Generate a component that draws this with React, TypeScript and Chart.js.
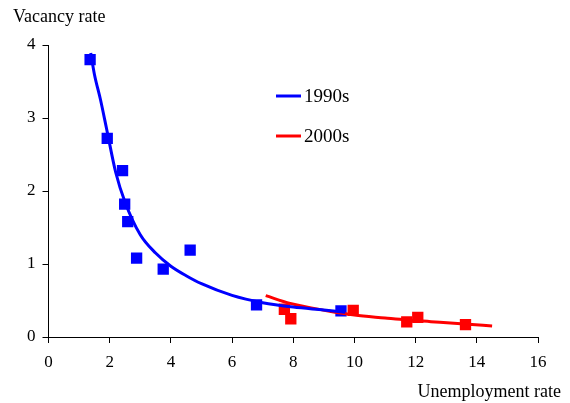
import React, { useEffect, useRef } from "react";
import { Chart, registerables } from "chart.js";

Chart.register(...registerables);

// 1990s observations (unemployment rate, vacancy rate)
const blueX = [1.36, 1.92, 2.42, 2.49, 2.59, 2.88, 3.75, 4.63, 6.8, 9.56];
const blueY = [3.8, 2.72, 2.28, 1.82, 1.58, 1.08, 0.93, 1.19, 0.44, 0.357];
// 2000s observations
const redX = [7.71, 7.92, 9.96, 11.71, 12.07, 13.63];
const redY = [0.38, 0.25, 0.366, 0.206, 0.27, 0.17];
// fitted curves
const blueCurveX = [1.38, 1.5, 1.7, 1.9, 2.2, 2.5, 3, 3.5, 4, 4.5, 5, 6, 7, 8, 9, 9.7];
const blueCurveY = [3.89, 3.6, 3.25, 2.85, 2.25, 1.85, 1.4, 1.15, 0.97, 0.84, 0.73, 0.57, 0.47, 0.41, 0.37, 0.34];
const redCurveX = [7.1, 7.9, 9.1, 10, 11, 11.7, 12.5, 13.6, 14.5];
const redCurveY = [0.567, 0.46, 0.36, 0.3, 0.26, 0.233, 0.21, 0.178, 0.15];

const legendLabels = ["1990s", "2000s"];
const xTitle = "Unemployment rate";
const yTitle = "Vacancy rate";

const BLUE = "#0000ff";
const RED = "#ff0000";
const FONT = "'Liberation Serif', 'Times New Roman', serif";

const zip = (xs: number[], ys: number[]) => xs.map((x, i) => ({ x, y: ys[i] }));

const overlayPlugin = {
  id: "overlay",
  afterDraw(chart: any) {
    const ctx = chart.ctx;
    ctx.save();
    ctx.font = `18px ${FONT}`;
    ctx.fillStyle = "#000";
    ctx.textBaseline = "middle";
    ctx.textAlign = "left";
    ctx.fillText(yTitle, 13, 17);
    ctx.textAlign = "right";
    ctx.fillText(xTitle, 561, 392);
    // legend
    const items = [
      { label: legendLabels[0], color: BLUE, y: 96 },
      { label: legendLabels[1], color: RED, y: 136 },
    ];
    ctx.font = `19px ${FONT}`;
    ctx.textAlign = "left";
    for (const it of items) {
      ctx.strokeStyle = it.color;
      ctx.lineWidth = 3;
      ctx.beginPath();
      ctx.moveTo(276, it.y);
      ctx.lineTo(301, it.y);
      ctx.stroke();
      ctx.fillStyle = "#000";
      ctx.fillText(it.label, 304, it.y + 1);
    }
    ctx.restore();
  },
};

export default function App() {
  const ref = useRef<HTMLCanvasElement>(null);
  useEffect(() => {
    if (!ref.current) return;
    const chart = new Chart(ref.current, {
      type: "scatter",
      data: {
        datasets: [
          {
            type: "line",
            data: zip(blueCurveX, blueCurveY),
            borderColor: BLUE,
            borderWidth: 3,
            pointRadius: 0,
            tension: 0.4,
            cubicInterpolationMode: "monotone",
          } as any,
          {
            type: "line",
            data: zip(redCurveX, redCurveY),
            borderColor: RED,
            borderWidth: 3,
            pointRadius: 0,
            tension: 0.4,
            cubicInterpolationMode: "monotone",
          } as any,
          {
            data: zip(blueX, blueY),
            backgroundColor: BLUE,
            borderWidth: 0,
            pointStyle: "rect",
            pointRadius: 8,
          },
          {
            data: zip(redX, redY),
            backgroundColor: RED,
            borderWidth: 0,
            pointStyle: "rect",
            pointRadius: 8,
          },
        ],
      },
      options: {
        responsive: false,
        animation: false,
        layout: { padding: { left: 0, top: 45, right: 32, bottom: 0 } },
        plugins: { legend: { display: false }, tooltip: { enabled: false } },
        scales: {
          x: {
            type: "linear",
            min: 0,
            max: 16,
            afterFit: (s: any) => {
              s.height = 66;
            },
            ticks: { stepSize: 2, color: "#000", font: { family: FONT, size: 17 }, padding: 9 },
            grid: { drawOnChartArea: false, drawTicks: true, tickLength: 6, color: "#000" },
            border: { display: true, color: "#000", width: 1 },
          },
          y: {
            type: "linear",
            min: 0,
            max: 4,
            afterFit: (s: any) => {
              s.width = 48.5;
            },
            ticks: { stepSize: 1, color: "#000", font: { family: FONT, size: 17 }, padding: 7 },
            grid: { drawOnChartArea: false, drawTicks: true, tickLength: 6, color: "#000" },
            border: { display: true, color: "#000", width: 1 },
          },
        },
      },
      plugins: [overlayPlugin],
    });
    return () => chart.destroy();
  }, []);
  return (
    <div style={{ position: "fixed", left: 0, top: 0, width: 570, height: 403, background: "#fff" }}>
      <canvas ref={ref} width={570} height={403} style={{ width: 570, height: 403 }} />
    </div>
  );
}
